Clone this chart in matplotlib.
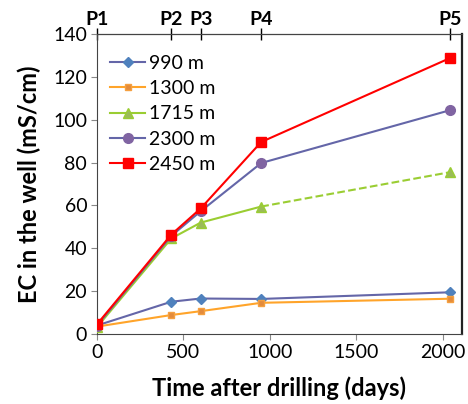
import numpy as np
import matplotlib

matplotlib.use("Agg")
import matplotlib.pyplot as plt

plt.rcParams["font.family"] = ["Lato", "DejaVu Sans"]

# Tiempo de muestreo (dias) y EC por profundidad
dias = [0, 430, 600, 950, 2040]
ec_990 = [4.0, 15.1, 16.6, 16.4, 19.5]
ec_1300 = [3.5, 8.9, 10.7, 14.6, 16.5]
ec_1715 = [3.2, 44.6, 52.0, 59.5, 75.5]
ec_2300 = [4.0, 45.8, 57.3, 79.8, 104.4]
ec_2450 = [4.5, 46.4, 58.6, 89.6, 128.7]
etiquetas_p = ["P1", "P2", "P3", "P4", "P5"]

fig = plt.figure(figsize=(4.68, 4.04), dpi=100)
ax = fig.add_axes([0.207, 0.173, 0.78, 0.743])

ax.plot(dias, ec_990, "-", color="#6466A8", lw=1.5, marker="D", ms=5,
        mfc="#4F81BD", mec="#4F81BD", label="990 m", zorder=3)
ax.plot(dias, ec_1300, "-", color="#FFA42A", lw=1.5, marker="s", ms=5,
        mfc="#E38B3C", mec="#F5A040", label="1300 m", zorder=3)
# 1715 m: tramo continuo hasta P4 y discontinuo hasta P5
ax.plot(dias[:4], ec_1715[:4], "-", color="#9ACD32", lw=1.5, marker="^",
        ms=7, mfc="#9BBB59", mec="#9ACD32", label="1715 m", zorder=3)
ax.plot(dias[3:], ec_1715[3:], "--", color="#9ACD32", lw=1.5, marker="^",
        ms=7, mfc="#9BBB59", mec="#9ACD32", markevery=[1], zorder=3)
ax.plot(dias, ec_2300, "-", color="#6466A8", lw=1.5, marker="o", ms=7,
        mfc="#8064A2", mec="#8064A2", label="2300 m", zorder=4)
ax.plot(dias, ec_2450, "-", color="#FF0000", lw=1.5, marker="s", ms=7,
        mfc="#FF0000", mec="#FF0000", label="2450 m", zorder=5)

ax.set_xlim(0, 2110)
ax.set_ylim(0, 140)
ax.set_xticks([0, 500, 1000, 1500, 2000])
ax.set_yticks(np.arange(0, 141, 20))
ax.tick_params(axis="both", labelsize=14, direction="out", length=4,
               color="#888888", pad=3)
ax.set_xlabel("Time after drilling (days)", fontsize=17, fontweight="bold",
              labelpad=11)
ax.set_ylabel("EC in the well (mS/cm)", fontsize=17, fontweight="bold",
              labelpad=9)

for lado in ["left", "bottom", "top"]:
    ax.spines[lado].set_color("#444444")
ax.spines["right"].set_color("#222222")
ax.spines["right"].set_linewidth(1.6)

# Eje superior con las campanas de muestreo
ax_top = ax.secondary_xaxis("top")
ax_top.set_xticks(dias)
ax_top.set_xticklabels(etiquetas_p, fontweight="bold")
ax_top.tick_params(direction="inout", length=8, width=1, labelsize=14,
                   pad=0, color="black")

ax.legend(loc="upper left", frameon=False, fontsize=14, handlelength=1.8,
          handletextpad=0.2, labelspacing=0.42, borderaxespad=0.3,
          bbox_to_anchor=(0.0, 0.975))

fig.savefig("out.png", dpi=100)
